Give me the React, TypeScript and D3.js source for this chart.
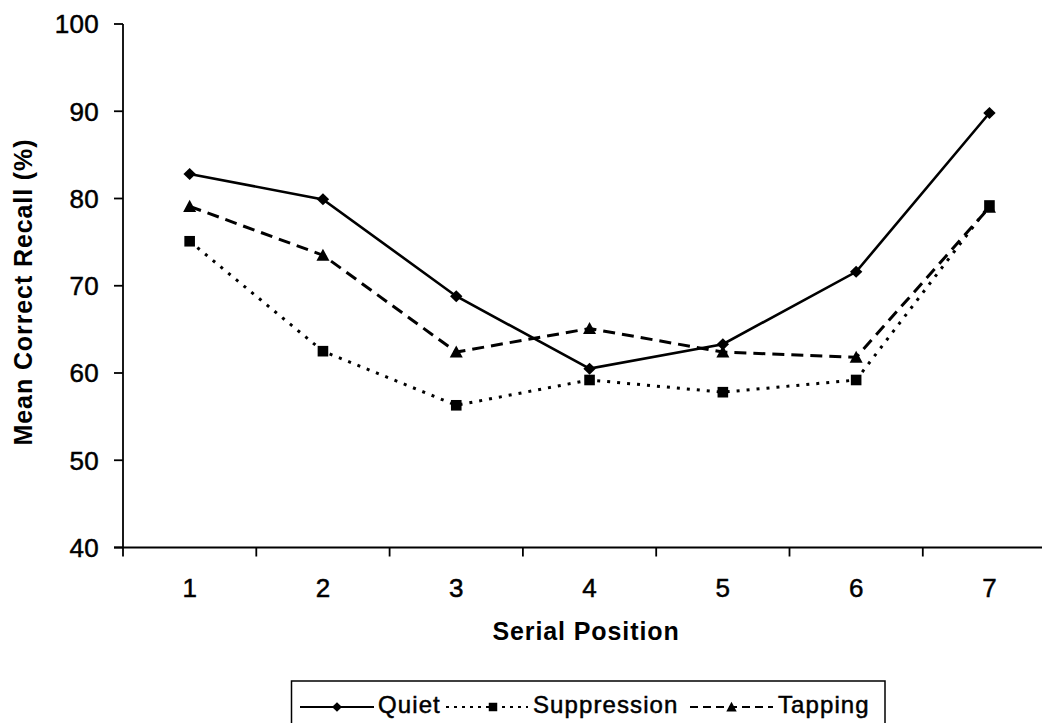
import React from "react";
import * as d3 from "d3";

const positions = [1, 2, 3, 4, 5, 6, 7];
const quiet = [82.8, 79.9, 68.8, 60.5, 63.3, 71.6, 89.8];
const suppression = [75.1, 62.5, 56.3, 59.2, 57.8, 59.2, 79.2];
const tapping = [79.1, 73.5, 62.4, 65.1, 62.4, 61.8, 79.0];
const yTicks = [40, 50, 60, 70, 80, 90, 100];
const seriesNames = ["Quiet", "Suppression", "Tapping"];

const W = 1042;
const H = 723;
const FONT = "Liberation Sans, Arial, Helvetica, sans-serif";

const series = [
  { name: seriesNames[0], values: quiet, dash: undefined as string | undefined, width: 2.6, marker: "diamond" },
  { name: seriesNames[1], values: suppression, dash: "3 7", width: 3, marker: "square" },
  { name: seriesNames[2], values: tapping, dash: "12 7", width: 3, marker: "triangle" },
];

function Marker({ kind, x, y, s }: { kind: string; x: number; y: number; s: number }) {
  if (kind === "diamond") {
    const rx = 6.2 * s;
    const ry = 6 * s;
    return <path d={`M${x},${y - ry}L${x + rx},${y}L${x},${y + ry}L${x - rx},${y}Z`} fill="#000" />;
  }
  if (kind === "square") {
    const r = 5.3 * s;
    return <rect x={x - r} y={y - r} width={2 * r} height={2 * r} fill="#000" />;
  }
  const r = 6.5 * s;
  return <path d={`M${x},${y - r}L${x + r},${y + r * 0.85}L${x - r},${y + r * 0.85}Z`} fill="#000" />;
}

export default function App() {
  const x0 = 123;
  const step = 133.3;
  const x = d3
    .scaleBand<number>()
    .domain(positions)
    .range([x0, x0 + step * positions.length])
    .padding(0);
  const y = d3.scaleLinear().domain([40, 100]).range([547.5, 24]);
  const cx = (p: number) => (x(p) as number) + x.bandwidth() / 2;

  const line = d3
    .line<[number, number]>()
    .x((d) => cx(d[0]))
    .y((d) => y(d[1]));

  const xEnd = x0 + step * positions.length;

  const legY = 707;
  const legItems = [
    { lx1: 300, lx2: 374, tx: 378 },
    { lx1: 446, lx2: 528, tx: 533 },
    { lx1: 690, lx2: 773, tx: 778 },
  ];

  const thick = { stroke: "#000", strokeWidth: 0.5 };

  return (
    <svg
      width={W}
      height={H}
      style={{ position: "absolute", left: 0, top: 0, background: "#fff" }}
      fontFamily={FONT}
    >
      <rect x={0} y={0} width={W} height={H} fill="#fff" />
      {/* y axis */}
      <line x1={x0} x2={x0} y1={y(100)} y2={y(40)} stroke="#000" strokeWidth={1.8} />
      {yTicks.map((t) => (
        <g key={t}>
          <line x1={x0 - 9} x2={x0} y1={y(t)} y2={y(t)} stroke="#000" strokeWidth={1.8} />
          <text x={99} y={y(t)} dy="0.36em" textAnchor="end" fontSize={26} fill="#000" letterSpacing={0.3} {...thick}>
            {t}
          </text>
        </g>
      ))}
      {/* x axis */}
      <line x1={x0 - 9} x2={xEnd} y1={y(40)} y2={y(40)} stroke="#000" strokeWidth={1.8} />
      <line x1={x0} x2={x0} y1={y(40)} y2={y(40) + 9} stroke="#000" strokeWidth={1.8} />
      {positions.map((p) => (
        <line
          key={"t" + p}
          x1={(x(p) as number) + x.bandwidth()}
          x2={(x(p) as number) + x.bandwidth()}
          y1={y(40)}
          y2={y(40) + 9}
          stroke="#000"
          strokeWidth={1.8}
        />
      ))}
      {positions.map((p) => (
        <text key={"l" + p} x={cx(p)} y={597} textAnchor="middle" fontSize={26} fill="#000" {...thick}>
          {p}
        </text>
      ))}
      {/* titles */}
      <text x={586} y={640} textAnchor="middle" fontSize={25} fontWeight="bold" fill="#000" letterSpacing={0.9}>
        Serial Position
      </text>
      <text
        transform={`translate(32,${292}) rotate(-90)`}
        textAnchor="middle"
        fontSize={25}
        fontWeight="bold"
        fill="#000"
        letterSpacing={0.9}
      >
        Mean Correct Recall (%)
      </text>
      {/* series */}
      {series.map((s) => (
        <g key={s.name}>
          <path
            d={line(positions.map((p, i) => [p, s.values[i]]) as [number, number][]) || ""}
            fill="none"
            stroke="#000"
            strokeWidth={s.width}
            strokeDasharray={s.dash}
          />
          {positions.map((p, i) => (
            <Marker key={p} kind={s.marker} x={cx(p)} y={y(s.values[i])} s={1} />
          ))}
        </g>
      ))}
      {/* legend */}
      <rect x={291.5} y={681} width={593.5} height={60} fill="none" stroke="#000" strokeWidth={1.5} />
      {series.map((s, i) => {
        const it = legItems[i];
        return (
          <g key={"leg" + s.name}>
            <line
              x1={it.lx1}
              x2={it.lx2}
              y1={legY}
              y2={legY}
              stroke="#000"
              strokeWidth={2.2}
              strokeDasharray={s.dash === "12 7" ? "8 5" : s.dash === "3 7" ? "3 5" : undefined}
            />
            <Marker kind={s.marker} x={(it.lx1 + it.lx2) / 2 + (i === 1 ? 6 : 0)} y={legY} s={0.8} />
            <text x={it.tx} y={713} fontSize={24} fill="#000" letterSpacing={1.1} {...thick}>
              {s.name}
            </text>
          </g>
        );
      })}
    </svg>
  );
}
